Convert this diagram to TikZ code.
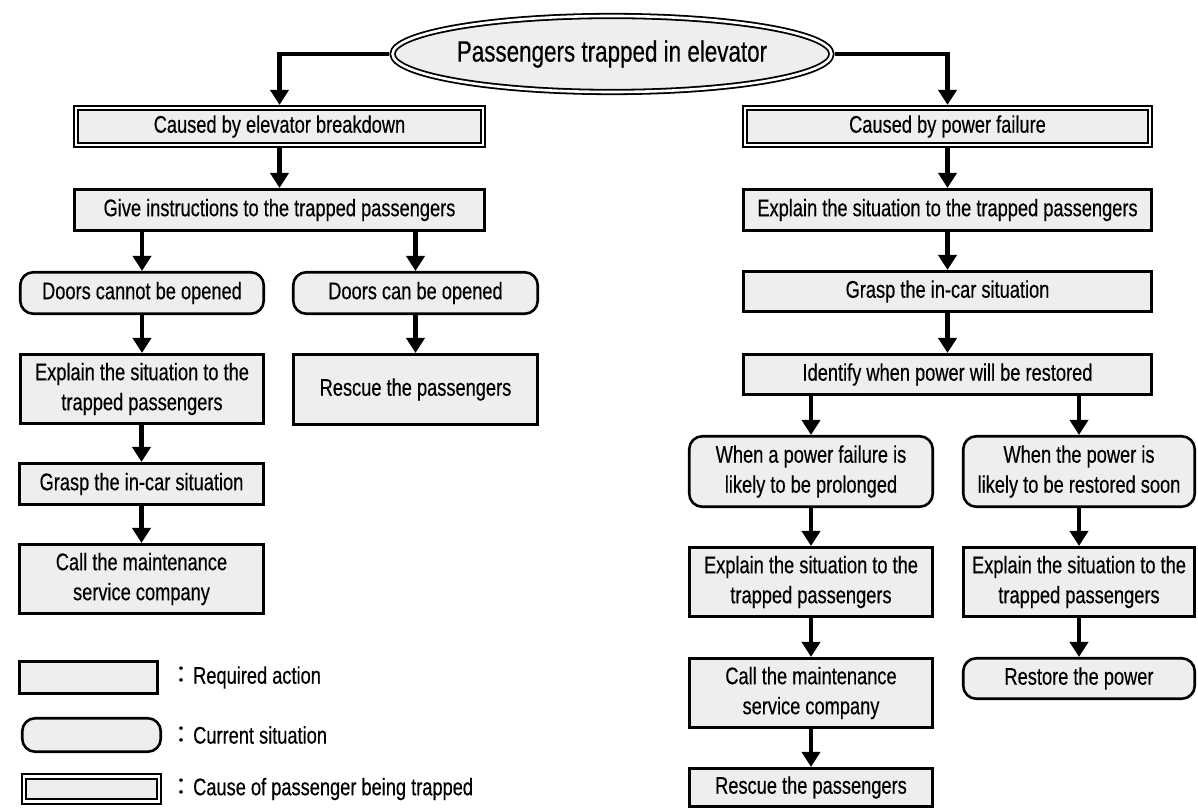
\documentclass[tikz,border=0pt]{standalone}
\usepackage{fontspec}
\setmainfont{Liberation Sans}[FakeStretch=0.76,FakeBold=0.4]
\newfontfamily\cjkfont{Noto Sans CJK JP}
\usetikzlibrary{arrows.meta,shapes.geometric}
\definecolor{boxfill}{HTML}{EEEEEE}
\begin{document}
\begin{tikzpicture}[x=1pt,y=-1pt,
  every node/.style={font=\fontsize{24}{30}\selectfont, align=center, inner sep=0pt},
  action/.style={draw, line width=2.6pt, fill=boxfill, rectangle},
  situation/.style={draw, line width=2.6pt, fill=boxfill, rectangle, rounded corners=13pt},
  cause/.style={draw, line width=1.8pt, double, double distance=2.6pt, fill=boxfill, rectangle, outer sep=3.1pt},
  arr/.style={line width=4.2pt, -{Triangle[length=15pt,width=18pt]}},
]
\useasboundingbox[fill=white] (0,0) rectangle (1198,810);

% top
\node[ellipse, draw, line width=1.8pt, double, double distance=2.6pt, fill=boxfill, outer sep=3.1pt,
      minimum width=398pt, minimum height=76pt, font=\fontsize{29.5}{34}\selectfont] (top) at (612,54) {Passengers trapped in elevator};

% left branch
\node[cause, minimum width=407pt, minimum height=37pt] (c1) at (279.5,126.5) {Caused by elevator breakdown};
\node[action, minimum width=410.5pt, minimum height=41.5pt] (give) at (279.5,210) {Give instructions to the trapped passengers};
\node[situation, minimum width=243.5pt, minimum height=41.5pt] (dco) at (142,293) {Doors cannot be opened};
\node[situation, minimum width=244.5pt, minimum height=41.5pt] (dcan) at (415.5,293) {Doors can be opened};
\node[action, minimum width=243.5pt, minimum height=69.5pt] (ex1) at (142,389) {Explain the situation to the\\trapped passengers};
\node[action, minimum width=244.5pt, minimum height=70.5pt] (res1) at (415.5,389.5) {Rescue the passengers};
\node[action, minimum width=244.5pt, minimum height=41.5pt] (gr1) at (141.5,484) {Grasp the in-car situation};
\node[action, minimum width=244.5pt, minimum height=69.5pt] (call1) at (141.5,579) {Call the maintenance\\service company};

% right branch
\node[cause, minimum width=405pt, minimum height=37pt] (c2) at (947.5,126.5) {Caused by power failure};
\node[action, minimum width=408.5pt, minimum height=41.5pt] (ex2) at (947.5,210) {Explain the situation to the trapped passengers};
\node[action, minimum width=408.5pt, minimum height=40.5pt] (gr2) at (947.5,291.5) {Grasp the in-car situation};
\node[action, minimum width=408.5pt, minimum height=40.5pt] (ident) at (947.5,374.5) {Identify when power will be restored};
\node[situation, minimum width=243.5pt, minimum height=70.5pt] (prol) at (811,471.5) {When a power failure is\\likely to be prolonged};
\node[situation, minimum width=231.5pt, minimum height=70.5pt] (soon) at (1079,471.5) {When the power is\\likely to be restored soon};
\node[action, minimum width=243.5pt, minimum height=69.5pt] (ex3) at (811,582) {Explain the situation to the\\trapped passengers};
\node[action, minimum width=231.5pt, minimum height=69.5pt] (ex4) at (1079,582) {Explain the situation to the\\trapped passengers};
\node[action, minimum width=243.5pt, minimum height=69.5pt] (call2) at (811,693) {Call the maintenance\\service company};
\node[situation, minimum width=231.5pt, minimum height=40.5pt] (rest) at (1079,678.5) {Restore the power};
\node[action, minimum width=243.5pt, minimum height=38.5pt] (res2) at (811,787.5) {Rescue the passengers};

% connectors
\draw[arr] (top.west) -| (c1.north);
\draw[arr] (top.east) -| (c2.north);
\draw[arr] (c1.south) -- (give.north);
\draw[arr] (give.south -| dco.north) -- (dco.north);
\draw[arr] (give.south -| dcan.north) -- (dcan.north);
\draw[arr] (dco.south) -- (ex1.north);
\draw[arr] (dcan.south) -- (res1.north);
\draw[arr] (ex1.south -| gr1.north) -- (gr1.north);
\draw[arr] (gr1.south) -- (call1.north);
\draw[arr] (c2.south) -- (ex2.north);
\draw[arr] (ex2.south) -- (gr2.north);
\draw[arr] (gr2.south) -- (ident.north);
\draw[arr] (ident.south -| prol.north) -- (prol.north);
\draw[arr] (ident.south -| soon.north) -- (soon.north);
\draw[arr] (prol.south) -- (ex3.north);
\draw[arr] (soon.south) -- (ex4.north);
\draw[arr] (ex3.south) -- (call2.north);
\draw[arr] (ex4.south) -- (rest.north);
\draw[arr] (call2.south) -- (res2.north);

% legend
\node[action, minimum width=138.5pt, minimum height=32.5pt] (lg1) at (88.5,677.5) {};
\node[situation, minimum width=138.5pt, minimum height=33.5pt] (lg2) at (91.5,735) {};
\node[cause, minimum width=135pt, minimum height=25pt] (lg3) at (91.5,789) {};
\node[anchor=west] (lt1) at (169,677.5) {{\cjkfont ：}Required action};
\node[anchor=west] (lt2) at (169,735) {{\cjkfont ：}Current situation};
\node[anchor=west] (lt3) at (169,789) {{\cjkfont ：}Cause of passenger being trapped};
\end{tikzpicture}
\end{document}
